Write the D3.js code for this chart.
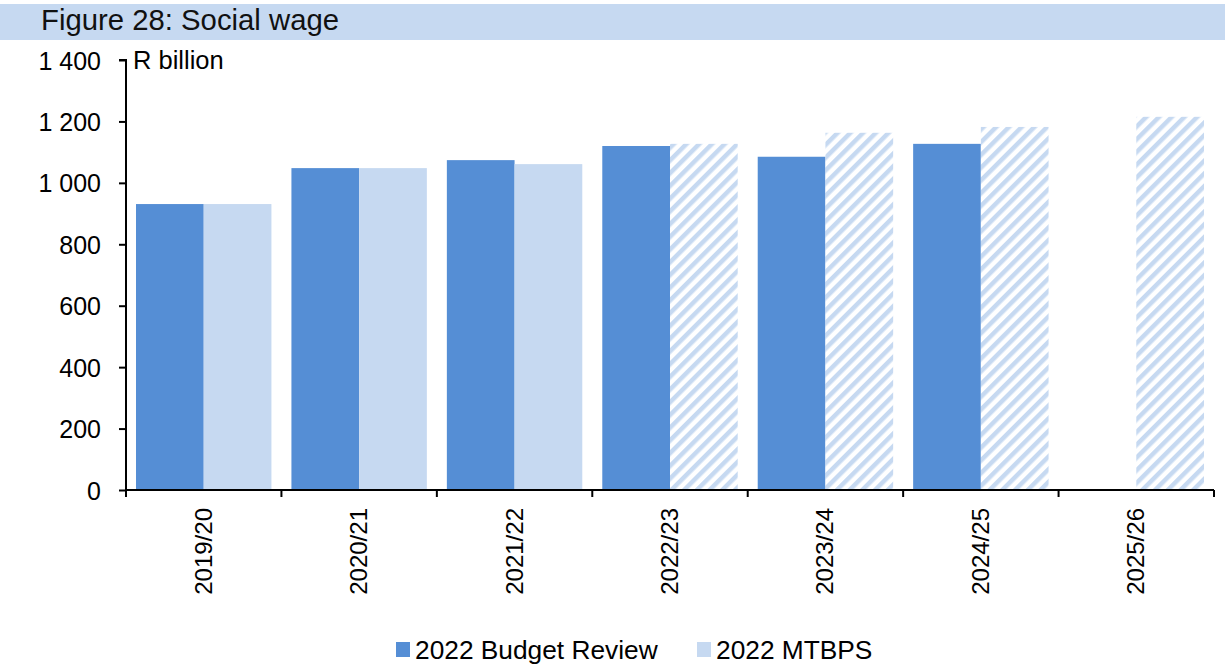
<!DOCTYPE html>
<html>
<head>
<meta charset="utf-8">
<script src="https://cdn.jsdelivr.net/npm/d3@7"></script>
<style>
  html, body { margin: 0; padding: 0; background: #fff; }
  svg { display: block; font-family: "Liberation Sans", Arial, sans-serif; }
</style>
</head>
<body>
<svg id="chart" width="1225" height="665"></svg>
<script>
// Social wage, R billion
const categories = ["2019/20", "2020/21", "2021/22", "2022/23", "2023/24", "2024/25", "2025/26"];
const budgetReview = [931, 1048, 1074, 1120, 1085, 1127, null];
const mtbps = [931, 1048, 1061, 1127, 1163, 1182, 1215];
// MTBPS values from 2022/23 onward are estimates (drawn hatched)
const mtbpsEstimate = [false, false, false, true, true, true, true];
const yTicks = [0, 200, 400, 600, 800, 1000, 1200, 1400];
const seriesNames = ["2022 Budget Review", "2022 MTBPS"];

const dark = "#558ed5";
const light = "#c6d9f1";

const svg = d3.select("#chart");

// hatch fill for estimates
const defs = svg.append("defs");
const pat = defs.append("pattern")
  .attr("id", "hatch")
  .attr("patternUnits", "userSpaceOnUse")
  .attr("width", 9).attr("height", 9)
  .attr("patternTransform", "rotate(45)");
pat.append("rect").attr("width", 9).attr("height", 9).attr("fill", "#fff");
pat.append("rect").attr("width", 4.5).attr("height", 9).attr("fill", light);

// title band
svg.append("rect").attr("x", 0).attr("y", 4).attr("width", 1225).attr("height", 36).attr("fill", light);
svg.append("text").attr("x", 41).attr("y", 30).attr("font-size", 29.3).attr("fill", "#111")
  .text("Figure 28: Social wage");

const margin = { left: 126, right: 1214, top: 60, bottom: 490 };

const x = d3.scaleBand().domain(categories).range([margin.left, margin.right]).paddingInner(0).paddingOuter(0);
const inner = 10;
const barW = (x.bandwidth() - 2 * inner) / 2;

const y = d3.scaleLinear().domain([0, 1400]).range([margin.bottom, margin.top]);

const fmt = v => d3.format(",")(v).replace(/,/g, " ");

// y axis
const yAxis = d3.axisLeft(y).tickValues(yTicks).tickSize(7).tickPadding(18).tickFormat(fmt);
const gy = svg.append("g").attr("transform", `translate(${margin.left},0)`).call(yAxis);
gy.select(".domain").attr("stroke", "#000").attr("stroke-width", 2).attr("d", `M-7,${margin.top}H0V${margin.bottom}`);
gy.selectAll(".tick line").attr("stroke", "#000").attr("stroke-width", 2);
gy.selectAll(".tick text").attr("font-size", 25).attr("fill", "#000").attr("dy", "0.36em")
  .attr("font-family", "Liberation Sans, Arial, sans-serif");

// bars
const g = svg.append("g");
categories.forEach((c, i) => {
  const x0 = x(c) + inner;
  if (budgetReview[i] != null) {
    g.append("rect").attr("x", x0).attr("width", barW)
      .attr("y", y(budgetReview[i])).attr("height", y(0) - y(budgetReview[i]))
      .attr("fill", dark);
  }
  if (mtbps[i] != null) {
    g.append("rect").attr("x", x0 + barW).attr("width", barW)
      .attr("y", y(mtbps[i])).attr("height", y(0) - y(mtbps[i]))
      .attr("fill", mtbpsEstimate[i] ? "url(#hatch)" : light);
  }
});

// x axis
const gx = svg.append("g").attr("transform", `translate(0,${margin.bottom})`);
gx.append("line").attr("x1", margin.left).attr("x2", margin.right).attr("stroke", "#000").attr("stroke-width", 2);
const bounds = categories.map(c => x(c)).concat([margin.right]);
gx.selectAll(".tk").data(bounds).enter().append("line")
  .attr("x1", d => d).attr("x2", d => d).attr("y1", 0).attr("y2", 7)
  .attr("stroke", "#000").attr("stroke-width", 2);
gx.selectAll(".lbl").data(categories).enter().append("text")
  .attr("transform", d => `translate(${x(d) + x.bandwidth() / 2 + 8},18) rotate(-90)`)
  .attr("text-anchor", "end").attr("font-size", 24).attr("fill", "#000")
  .text(d => d);

// unit label
svg.append("text").attr("x", 133).attr("y", 69).attr("font-size", 25.5).attr("fill", "#000").text("R billion");

// legend
const legend = svg.append("g");
const legendItems = [{ name: seriesNames[0], color: dark, x: 396 }, { name: seriesNames[1], color: light, x: 697 }];
legendItems.forEach(d => {
  legend.append("rect").attr("x", d.x).attr("y", 642).attr("width", 14).attr("height", 15).attr("fill", d.color);
  legend.append("text").attr("x", d.x + 19).attr("y", 659).attr("font-size", 26.3).attr("fill", "#000").text(d.name);
});
</script>
</body>
</html>
